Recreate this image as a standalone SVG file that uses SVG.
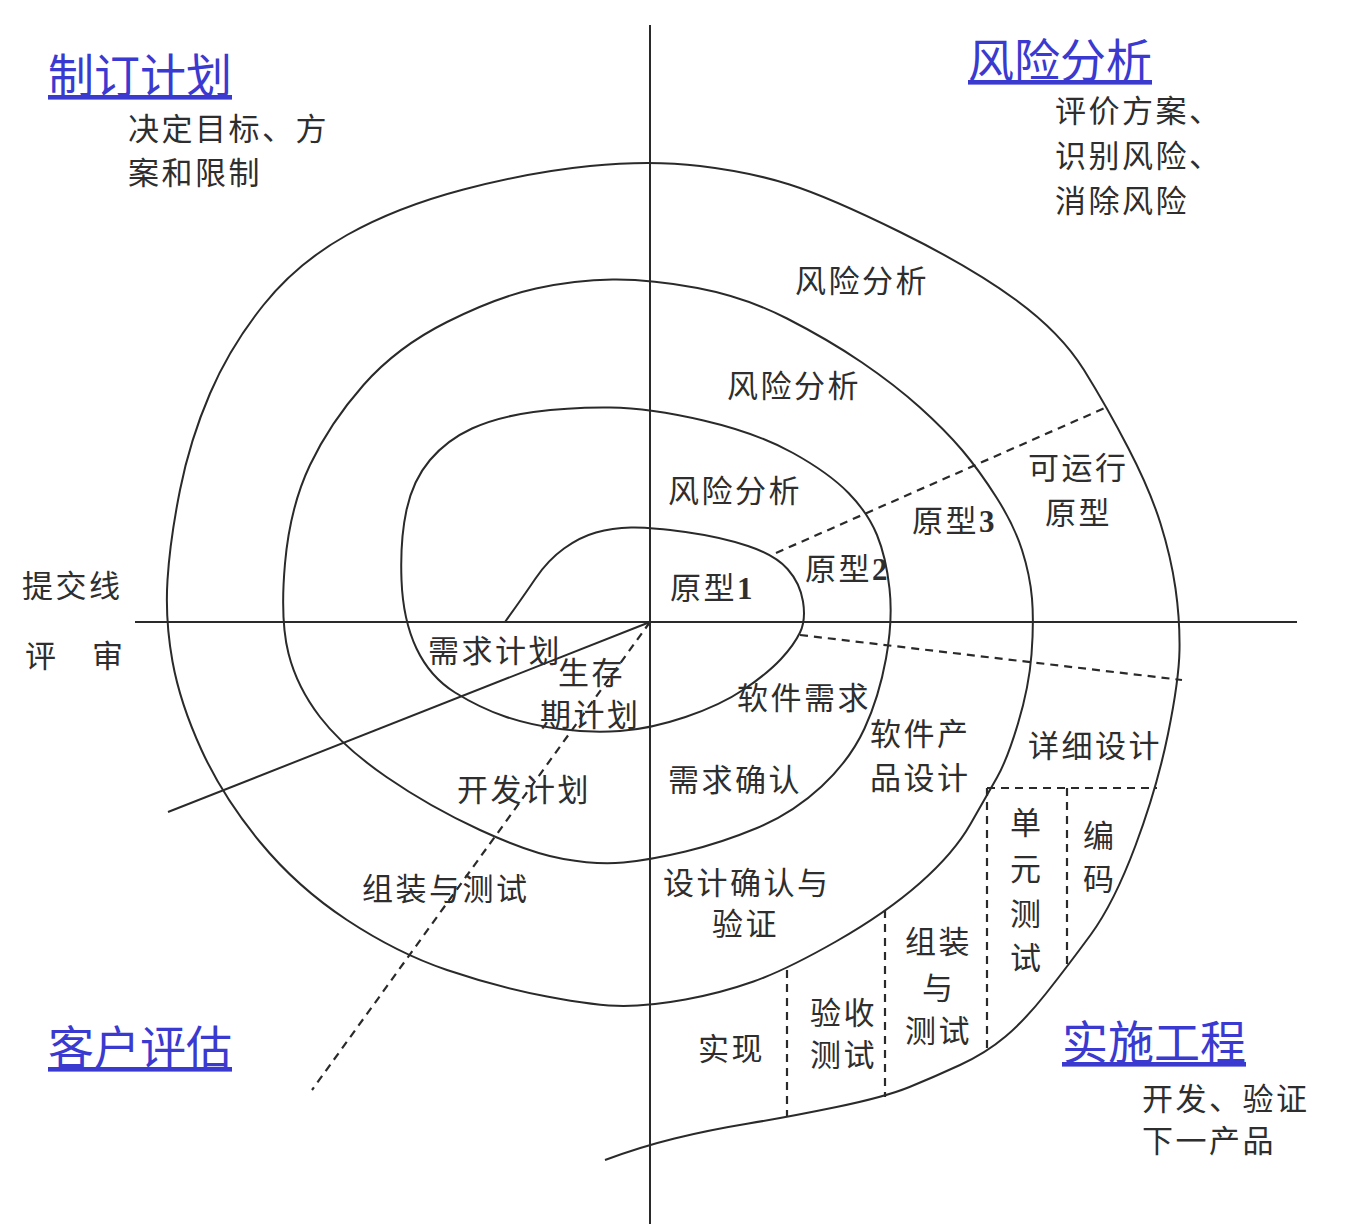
<svg xmlns="http://www.w3.org/2000/svg" width="1364" height="1224" viewBox="0 0 1364 1224">
<style>
.ln{fill:none;stroke:#2a2a2a;stroke-width:2}
.ds{fill:none;stroke:#2a2a2a;stroke-width:2.2;stroke-dasharray:8 6}
.t{font-family:"Noto Sans CJK SC",sans-serif;font-size:31px;fill:#2e2e2e;letter-spacing:2.5px}
.h{font-family:"Noto Sans CJK SC",sans-serif;font-size:46px;fill:#3a3ad0;text-decoration:underline}
.n{font-family:"Liberation Serif",serif;font-weight:bold}
</style>
<rect width="1364" height="1224" fill="#fff"/>
<g id="connectors">
<line class="ln" x1="650" y1="25" x2="650" y2="1224"/>
<line class="ln" x1="135" y1="622" x2="1297" y2="622"/>
<line class="ln" x1="650" y1="622" x2="168" y2="812"/>
<line class="ds" x1="650" y1="622" x2="312" y2="1090"/>
<line class="ds" x1="776" y1="553" x2="1107" y2="407"/>
<line class="ds" x1="800" y1="635" x2="1182" y2="680"/>
<line class="ds" x1="987" y1="788" x2="1157" y2="788"/>
<line class="ds" x1="987" y1="788" x2="987" y2="1053"/>
<line class="ds" x1="1067" y1="788" x2="1067" y2="967"/>
<line class="ds" x1="885" y1="910" x2="885" y2="1097"/>
<line class="ds" x1="787" y1="970" x2="787" y2="1117"/>
<path id="spiral" class="ln" d="M505,622 Q523,597 535.5,578.5 Q548,560 564,548.5 Q580,537 596,532.5 Q612,528 631,527.5 Q650,527 685.5,532 Q721,537 748,546 Q775,555 787.5,569 Q800,583 803,601.5 Q806,620 800,632.5 Q794,645 781,659 Q768,673 744.5,689 Q721,705 685.5,717 Q650,729 620,731 Q590,733 560,729 Q530,725 505,716.5 Q480,708 455,692.5 Q430,677 416.5,648.5 Q403,620 401.5,580 Q400,540 406.5,510 Q413,480 430,460 Q447,440 472,428.5 Q497,417 533.5,412 Q570,407 610,407.5 Q650,408 703.5,420.5 Q757,433 793,453 Q829,473 848.5,493 Q868,513 877,535 Q886,557 889.5,588.5 Q893,620 886,658.5 Q879,697 864.5,728.5 Q850,760 821.5,786.5 Q793,813 757,828 Q721,843 685.5,851.5 Q650,860 623.5,862.5 Q597,865 563.5,859 Q530,853 480,830 Q430,807 386.5,777 Q343,747 320,717 Q297,687 288.5,653.5 Q280,620 285,563.5 Q290,507 310,465 Q330,423 363.5,385 Q397,347 447,322 Q497,297 536,288.5 Q575,280 612.5,279.5 Q650,279 697.5,288 Q745,297 787,318.5 Q829,340 862,362.5 Q895,385 920,407.5 Q945,430 962,450 Q979,470 996.5,497.5 Q1014,525 1022,550 Q1030,575 1032,598.5 Q1034,622 1031.5,654.5 Q1029,687 1018,723.5 Q1007,760 997,777.5 Q987,795 970.5,824 Q954,853 920,883 Q886,913 836,941.5 Q786,970 753.5,981.5 Q721,993 685.5,999.5 Q650,1006 623.5,1006 Q597,1006 547,996.5 Q497,987 447,970 Q397,953 347,920 Q297,887 260,842 Q223,797 201.5,750 Q180,703 172.5,661.5 Q165,620 167.5,580 Q170,540 180,490 Q190,440 210,393.5 Q230,347 263.5,305 Q297,263 347,235 Q397,207 463.5,189.5 Q530,172 590,166 Q650,160 700,166 Q750,172 789.5,184.5 Q829,197 900,232 Q971,267 1016,300 Q1061,333 1084,370 Q1107,407 1128.5,448.5 Q1150,490 1160.5,523.5 Q1171,557 1175.5,588.5 Q1180,620 1179.5,650 Q1179,680 1168,734 Q1157,788 1135.5,845.5 Q1114,903 1090.5,935 Q1067,967 1046,993.5 Q1025,1020 1005.5,1036.5 Q986,1053 960,1065 Q934,1077 909.5,1087 Q885,1097 836.5,1107 Q788,1117 748.5,1123.5 Q709,1130 674.5,1138.5 Q640,1147 605,1160"/>
</g>
<g id="q-plan">
<text class="h" x="48" y="92">制订计划</text>
<text class="t" x="128" y="140">决定目标、方</text>
<text class="t" x="128" y="184">案和限制</text>
</g>
<g id="q-risk">
<text class="h" x="968" y="77">风险分析</text>
<text class="t" x="1055" y="122">评价方案、</text>
<text class="t" x="1055" y="167">识别风险、</text>
<text class="t" x="1055" y="212">消除风险</text>
<text class="t" x="795" y="292">风险分析</text>
<text class="t" x="727" y="397">风险分析</text>
<text class="t" x="668" y="502">风险分析</text>
<text class="t" x="1028" y="479">可运行</text>
<text class="t" x="1045" y="524">原型</text>
<text class="t" x="912" y="532">原型<tspan class="n">3</tspan></text>
<text class="t" x="805" y="580">原型<tspan class="n">2</tspan></text>
<text class="t" x="670" y="599">原型<tspan class="n">1</tspan></text>
</g>
<g id="review">
<text class="t" x="22" y="597">提交线</text>
<text class="t" x="25" y="667" letter-spacing="0">评　审</text>
</g>
<g id="q-eval">
<text class="t" x="428" y="662">需求计划</text>
<text class="t" x="558" y="684">生存</text>
<text class="t" x="540" y="726">期计划</text>
<text class="t" x="457" y="801">开发计划</text>
<text class="t" x="362" y="900">组装与测试</text>
<text class="h" x="48" y="1064">客户评估</text>
</g>
<g id="q-eng">
<text class="t" x="737" y="709">软件需求</text>
<text class="t" x="870" y="745">软件产</text>
<text class="t" x="870" y="789">品设计</text>
<text class="t" x="1028" y="757">详细设计</text>
<text class="t" x="668" y="791">需求确认</text>
<text class="t" x="1010" y="834">单</text>
<text class="t" x="1010" y="880">元</text>
<text class="t" x="1010" y="925">测</text>
<text class="t" x="1010" y="969">试</text>
<text class="t" x="1083" y="847">编</text>
<text class="t" x="1083" y="890">码</text>
<text class="t" x="663" y="894">设计确认与</text>
<text class="t" x="712" y="935">验证</text>
<text class="t" x="905" y="953">组装</text>
<text class="t" x="922" y="999">与</text>
<text class="t" x="905" y="1042">测试</text>
<text class="t" x="810" y="1024">验收</text>
<text class="t" x="810" y="1066">测试</text>
<text class="t" x="698" y="1060">实现</text>
<text class="h" x="1062" y="1059">实施工程</text>
<text class="t" x="1142" y="1110">开发、验证</text>
<text class="t" x="1142" y="1152">下一产品</text>
</g>
</svg>
